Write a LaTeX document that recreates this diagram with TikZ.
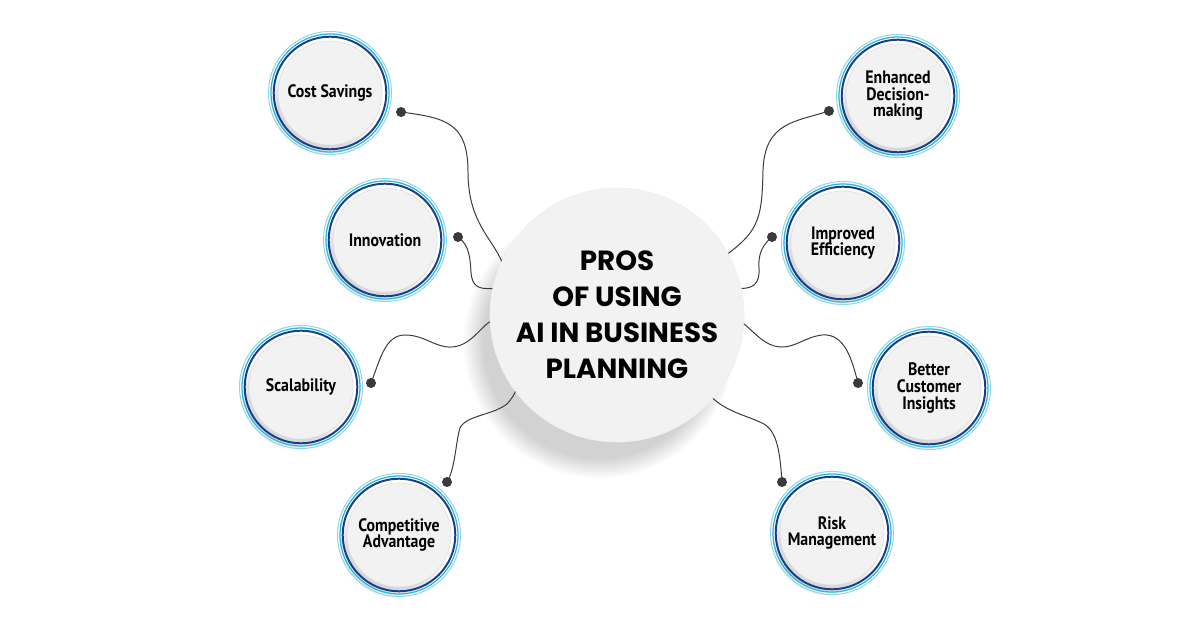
\documentclass[tikz,border=0pt]{standalone}
\usepackage{fontspec}
\setmainfont{Poppins}
\newfontfamily\labelfont[FakeStretch=0.88]{PT Sans}
\usetikzlibrary{shadows}
\definecolor{ringlight}{HTML}{8AD8EA}
\definecolor{ringcyan}{HTML}{2FB5D5}
\definecolor{ringnavy}{HTML}{143F8C}
\definecolor{diskgray}{HTML}{F2F2F2}
\definecolor{wiregray}{HTML}{3A3A3A}
\tikzstyle{hub}=[circle, fill=diskgray, draw=gray!12, minimum size=6.35cm, inner sep=0pt, align=center,
  font=\bfseries\fontsize{19.7}{25.6}\selectfont,
  circular drop shadow={shadow xshift=-12pt, shadow yshift=-18pt, shadow scale=1.07, opacity=0.35}]
\tikzstyle{item}=[circle, fill=diskgray, draw=gray!25, minimum size=2.6cm, inner sep=0pt, align=center,
  font=\labelfont\bfseries\fontsize{12.8}{11.8}\selectfont,
  circular drop shadow={shadow xshift=-4pt, shadow yshift=-6pt, shadow scale=1.04, opacity=0.3}]
\tikzstyle{dot}=[circle, fill=wiregray, minimum size=0.25cm, inner sep=0pt]
\tikzstyle{wire}=[wiregray, line width=0.7pt]

\begin{document}
\begin{tikzpicture}[x=0.025cm, y=-0.025cm]
  \useasboundingbox[fill=white] (0,0) rectangle (1200,628);
  % centre
  \node[hub] (hub) at (617,315) {PROS\\OF USING\\AI IN BUSINESS\\PLANNING};
  % left side
  \node[item] (cost) at (330,93) {Cost Savings};
  \node[item] (innov) at (385,240) {Innovation};
  \node[item] (scal) at (301,387) {Scalability};
  \node[item] (compet) at (399,535) {Competitive\\Advantage};
  % right side
  \node[item] (decis) at (898,96) {Enhanced\\Decision-\\making};
  \node[item] (effic) at (843,243) {Improved\\Efficiency};
  \node[item] (insight) at (929,388) {Better\\Customer\\Insights};
  \node[item] (risk) at (832,533) {Risk\\Management};
  \foreach \n in {cost,innov,scal,compet,decis,effic,insight,risk}{
    \draw[ringlight, line width=0.7pt] (\n.center) circle (61.5);
    \draw[ringcyan, line width=0.9pt] (\n.center) circle (59);
    \draw[ringnavy, line width=1.4pt] (\n.center) circle (56.3);
  }
  % dots
  \node[dot] (d1) at (401,112) {};
  \node[dot] (d2) at (458,237) {};
  \node[dot] (d3) at (371,383) {};
  \node[dot] (d4) at (447,482) {};
  \node[dot] (d5) at (829,111) {};
  \node[dot] (d6) at (772,237) {};
  \node[dot] (d7) at (858,383) {};
  \node[dot] (d8) at (782,482) {};
  % wires
  \draw[wire] (d1.center) .. controls (445,118) and (468,122) .. (468,172) .. controls (468,222) and (492,238) .. (hub.155);
  \draw[wire] (d2.center) .. controls (470,245) and (470,260) .. (471,272) .. controls (472,288) and (480,289) .. (hub.168);
  \draw[wire] (d3.center) .. controls (380,360) and (385,335) .. (405,335) .. controls (425,335) and (435,348) .. (452,347) .. controls (470,346) and (480,328) .. (hub.183);
  \draw[wire] (d4.center) .. controls (455,470) and (456,440) .. (460,428) .. controls (466,415) and (495,415) .. (508,403) .. controls (512,398) and (514,395) .. (hub.217);
  \draw[wire] (d5.center) .. controls (795,122) and (765,122) .. (763,170) .. controls (762,215) and (760,230) .. (hub.29);
  \draw[wire] (d6.center) .. controls (762,245) and (758,255) .. (759,268) .. controls (760,285) and (752,288) .. (hub.12);
  \draw[wire] (d7.center) .. controls (852,360) and (845,333) .. (822,335) .. controls (805,337) and (795,348) .. (780,347) .. controls (765,346) and (755,333) .. (hub.356);
  \draw[wire] (d8.center) .. controls (780,455) and (778,430) .. (762,423) .. controls (745,415) and (728,412) .. (hub.-41);
\end{tikzpicture}
\end{document}
